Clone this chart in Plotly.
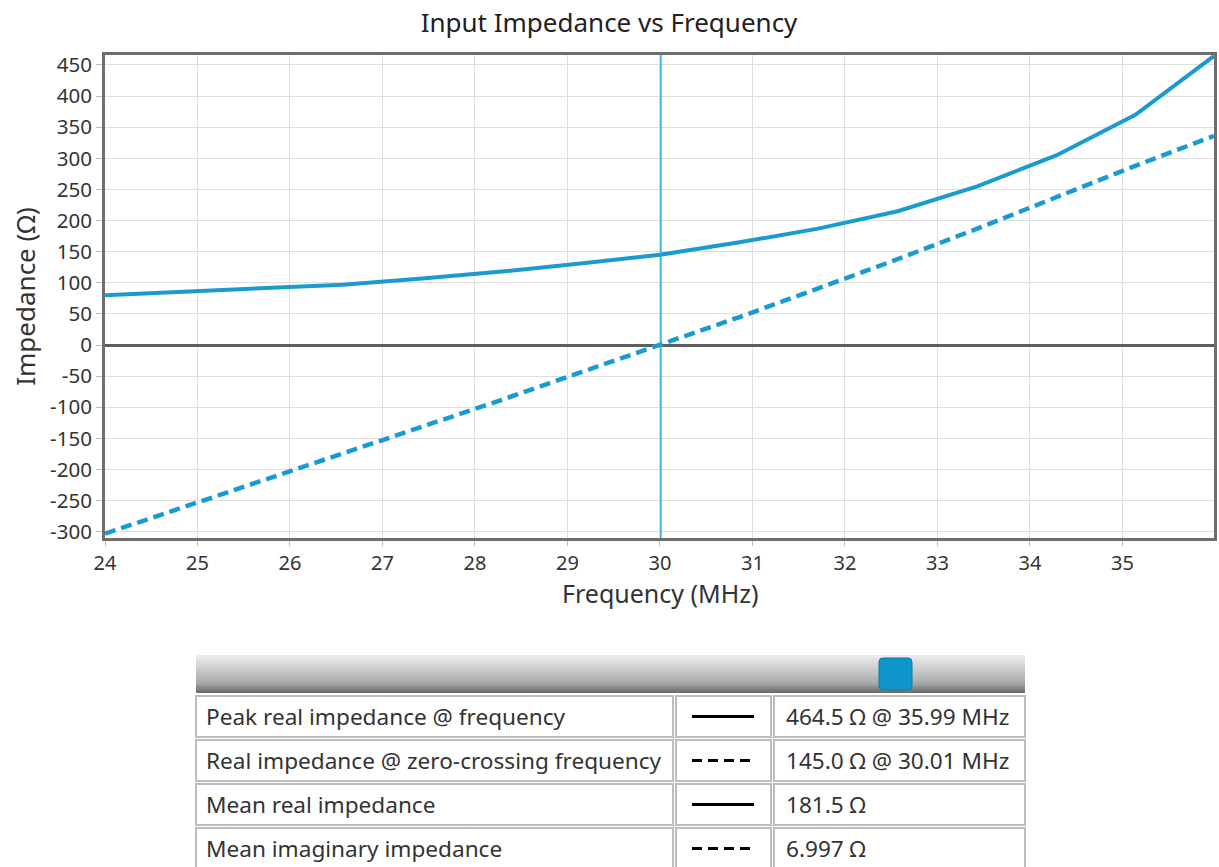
import plotly.graph_objects as go

# ---- data ----
freq_mhz = [24.0, 24.86, 25.71, 26.57, 27.43, 28.29, 29.14, 30.0,
            30.86, 31.71, 32.57, 33.43, 34.29, 35.14, 35.99]
real_ohm = [80, 86, 91, 97, 107, 118, 131, 145,
            165, 187, 215, 255, 305, 370, 464.5]
imag_ohm = [-303, -260, -218, -175, -132, -88, -44, 0,
            45, 91, 138, 187, 238, 288, 336]
x_ticks = [24, 25, 26, 27, 28, 29, 30, 31, 32, 33, 34, 35]
y_ticks = [-300, -250, -200, -150, -100, -50, 0, 50, 100, 150,
           200, 250, 300, 350, 400, 450]
zero_cross_freq = 30.01

table_labels = ["Peak real impedance @ frequency",
                "Real impedance @ zero-crossing frequency",
                "Mean real impedance",
                "Mean imaginary impedance"]
table_styles = ["solid", "dash", "solid", "dash"]
table_values = ["464.5 Ω @ 35.99 MHz",
                "145.0 Ω @ 30.01 MHz",
                "181.5 Ω",
                "6.997 Ω"]

W, H = 1219, 867
BLUE = "#1a9bd0"
FONT = "Noto Sans"
TXT = "#333333"


def px(x):
    return x / W


def py(y):
    return 1 - y / H


fig = go.Figure()
fig.add_trace(go.Scatter(x=freq_mhz, y=real_ohm, mode="lines",
                         line=dict(color=BLUE, width=4), name="Real",
                         showlegend=False))
fig.add_trace(go.Scatter(x=freq_mhz, y=imag_ohm, mode="lines",
                         line=dict(color=BLUE, width=4.5, dash="11px,6px"),
                         name="Imaginary", showlegend=False))

shapes = []
# zero-crossing marker
shapes.append(dict(type="line", xref="x", yref="paper", x0=zero_cross_freq,
                   x1=zero_cross_freq, y0=py(538), y1=py(55),
                   line=dict(color="#22aae2", width=1.5)))

# table header gradient bar
top, bot = 655, 693
n = 19
for i in range(n):
    t = i / (n - 1)
    if t < 0.75:
        v = 236 - (236 - 170) * (t / 0.75)
    else:
        v = 170 - (170 - 110) * ((t - 0.75) / 0.25)
    c = int(v)
    y0 = top + i * (bot - top) / n
    y1 = top + (i + 1) * (bot - top) / n
    shapes.append(dict(type="rect", xref="paper", yref="paper",
                       x0=px(196), x1=px(1025), y0=py(y1), y1=py(y0),
                       line=dict(width=0), fillcolor=f"rgb({c},{c},{c})",
                       layer="above"))

# blue rounded square
x0, x1, y0, y1, r = 879, 912, 658, 690, 4
path = (f"M {px(x0+r)} {py(y0)} L {px(x1-r)} {py(y0)} "
        f"Q {px(x1)} {py(y0)} {px(x1)} {py(y0+r)} L {px(x1)} {py(y1-r)} "
        f"Q {px(x1)} {py(y1)} {px(x1-r)} {py(y1)} L {px(x0+r)} {py(y1)} "
        f"Q {px(x0)} {py(y1)} {px(x0)} {py(y1-r)} L {px(x0)} {py(y0+r)} "
        f"Q {px(x0)} {py(y0)} {px(x0+r)} {py(y0)} Z")
shapes.append(dict(type="path", xref="paper", yref="paper", path=path,
                   fillcolor="#0e95c9", line=dict(color="#0b7aa6", width=1),
                   layer="above"))

# table cells
cols = [(196, 673), (676, 771), (774, 1025)]
row_tops = [696, 740, 784, 828]
row_h = 41
annotations = []
for ri, rt in enumerate(row_tops):
    rb = rt + row_h
    for (cx0, cx1) in cols:
        shapes.append(dict(type="rect", xref="paper", yref="paper",
                           x0=px(cx0), x1=px(cx1), y0=py(rb), y1=py(rt),
                           line=dict(color="#bdbdbd", width=2),
                           fillcolor="white", layer="above"))
    yc = rt + row_h / 2
    shapes.append(dict(type="line", xref="paper", yref="paper",
                       x0=px(692), x1=px(754), y0=py(yc), y1=py(yc),
                       line=dict(color="black", width=3,
                                 dash="solid" if table_styles[ri] == "solid" else "10px,6px"),
                       layer="above"))
    annotations.append(dict(xref="paper", yref="paper", x=px(204), y=py(yc),
                            text=table_labels[ri], showarrow=False,
                            xanchor="left", yanchor="middle",
                            font=dict(family=FONT, size=22.6, color=TXT)))
    annotations.append(dict(xref="paper", yref="paper", x=px(784), y=py(yc),
                            text=table_values[ri], showarrow=False,
                            xanchor="left", yanchor="middle",
                            font=dict(family=FONT, size=22.6, color=TXT)))

# x-axis title
annotations.append(dict(xref="paper", yref="paper", x=px(660), y=py(593),
                        text="Frequency (MHz)", showarrow=False,
                        xanchor="center", yanchor="middle",
                        font=dict(family=FONT, size=25, color=TXT)))

fig.update_layout(
    width=W, height=H,
    margin=dict(l=0, r=0, t=0, b=0, autoexpand=False),
    paper_bgcolor="white", plot_bgcolor="white",
    title=dict(text="Input Impedance vs Frequency", x=px(609), xanchor="center",
               y=py(23), yanchor="middle", xref="paper", yref="paper",
               font=dict(family=FONT, size=26, color="#222222")),
    font=dict(family=FONT, color=TXT),
    shapes=shapes, annotations=annotations,
    xaxis=dict(domain=[px(105), px(1214)], range=[24, 35.99],
               automargin=False,
               tickmode="array", tickvals=x_ticks,
               ticktext=[str(v) for v in x_ticks],
               ticks="outside", ticklen=5, tickcolor="#bbbbbb",
               showgrid=True, gridcolor="#dedede", gridwidth=1,
               showline=True, mirror=True, linecolor="#6e6e6e", linewidth=3,
               zeroline=False,
               tickfont=dict(family=FONT, size=20, color=TXT)),
    yaxis=dict(domain=[py(538), py(55)], range=[-310, 466],
               automargin=False,
               tickmode="array", tickvals=y_ticks,
               ticktext=[str(v) for v in y_ticks],
               ticks="outside", ticklen=6, tickcolor="#bbbbbb",
               showgrid=True, gridcolor="#dedede", gridwidth=1,
               showline=True, mirror=True, linecolor="#6e6e6e", linewidth=3,
               zeroline=True, zerolinecolor="#5e5e5e", zerolinewidth=2.5,
               tickfont=dict(family=FONT, size=20.5, color=TXT),
               title=dict(text="Impedance (Ω)", standoff=8,
                          font=dict(family=FONT, size=26, color=TXT))),
)

fig.write_html("out.html")
